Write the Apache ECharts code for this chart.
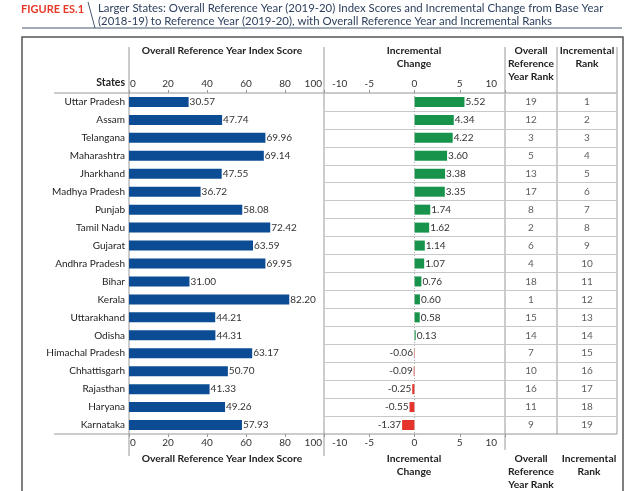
<!DOCTYPE html>
<html><head><meta charset="utf-8">
<script src="https://cdn.jsdelivr.net/npm/echarts@6/dist/echarts.min.js"></script>
<style>html,body{margin:0;padding:0;background:#fff}#c{width:629px;height:491px}</style>
</head><body><div id="c"></div>
<script>
const states = ['Uttar Pradesh','Assam','Telangana','Maharashtra','Jharkhand','Madhya Pradesh','Punjab','Tamil Nadu','Gujarat','Andhra Pradesh','Bihar','Kerala','Uttarakhand','Odisha','Himachal Pradesh','Chhattisgarh','Rajasthan','Haryana','Karnataka'];
const indexScore = [30.57,47.74,69.96,69.14,47.55,36.72,58.08,72.42,63.59,69.95,31.00,82.20,44.21,44.31,63.17,50.70,41.33,49.26,57.93];
const incChange = [5.52,4.34,4.22,3.60,3.38,3.35,1.74,1.62,1.14,1.07,0.76,0.60,0.58,0.13,-0.06,-0.09,-0.25,-0.55,-1.37];
const overallRank = [19,12,3,5,13,17,8,2,6,4,18,1,15,14,7,10,16,11,9];
const incRank = [1,2,3,4,5,6,7,8,9,10,11,12,13,14,15,16,17,18,19];

const FONT = 'Lato, "Open Sans", sans-serif';
const TOP = 93, H = 341;
const chart = echarts.init(document.getElementById('c'), null, {renderer:'canvas'});

function grid(left, width){ return {left, top:TOP, width, height:H, outerBoundsMode:'none', containLabel:false}; }
function valAxis(g, pos, min, max, interval, padMin, padMax){
  return {type:'value', gridIndex:g, position:pos, min, max, interval,
    axisLine:{show:false}, splitLine:{show:false},
    axisTick:{show:true, length:3, lineStyle:{color:'#999'}},
    axisLabel:{fontSize:10, color:'#333', fontFamily:FONT, margin:4, alignMinLabel:'left', alignMaxLabel:'right',
      formatter: v => v===min ? '{a|'+v+'}' : (v===max ? '{b|'+v+'}' : String(v)),
      rich:{a:{fontSize:10, color:'#333', fontFamily:FONT, padding:[0,0,0,padMin]},
            b:{fontSize:10, color:'#333', fontFamily:FONT, padding:[0,padMax,0,0]}}}};
}
function catX(g){ return {type:'category', gridIndex:g, data:['x'], show:false}; }
function catY(g, showLabel, split){
  return {type:'category', gridIndex:g, data:states, inverse:true,
    axisLine:{show:false}, axisTick:{show:false},
    axisLabel:{show:showLabel, fontSize:10, color:'#222', fontFamily:FONT, margin:4},
    splitLine:{show:split, interval:0, lineStyle:{color:'#c8c8c8', width:1}}};
}
function rankSeries(g, arr){
  return {type:'scatter', xAxisIndex:g===2?4:5, yAxisIndex:g, symbolSize:1,
    itemStyle:{color:'rgba(0,0,0,0)'}, silent:true,
    data: arr.map((r,i)=>[0,i]),
    label:{show:true, position:'inside', formatter:p=>String(arr[p.dataIndex]), fontSize:10, color:'#333', fontFamily:FONT}};
}
function line(x1,y1,x2,y2,color,w){ return {type:'line', silent:true, shape:{x1,y1,x2,y2}, style:{stroke:color||'#999', lineWidth:w||1}}; }
function txt(text,x,y,opt){
  opt = opt||{};
  return {type:'text', silent:true, x, y, style:{text, fill:opt.fill||'#222',
    font:(opt.weight||'bold')+' '+(opt.size||10.3)+'px '+FONT,
    align:opt.align||'center', textAlign:opt.align||'center',
    verticalAlign:'top', textVerticalAlign:'top', lineHeight:opt.lh||13}};
}

const option = {
  animation:false,
  grid:[grid(129,195), grid(324,181), grid(505,52), grid(557,60)],
  xAxis:[
    valAxis(0,'bottom',0,100,20,1,2), valAxis(0,'top',0,100,20,1,2),
    valAxis(1,'bottom',-10,10,5,8,8), valAxis(1,'top',-10,10,5,8,8),
    catX(2), catX(3)
  ],
  yAxis:[catY(0,true,false), catY(1,false,true), catY(2,false,true), catY(3,false,true)],
  series:[
    {type:'bar', xAxisIndex:0, yAxisIndex:0, data:indexScore, barWidth:10,
      itemStyle:{color:'#0b4c94'},
      label:{show:true, position:'right', distance:1, fontSize:10, color:'#333', fontFamily:FONT, formatter:p=>p.value.toFixed(2)}},
    {type:'bar', xAxisIndex:2, yAxisIndex:1, barWidth:10,
      data: incChange.map(v=>({value:v, itemStyle:{color: v>=0?'#17934c':'#e5342b'},
        label:{position: v>=0?'right':'left'}})),
      label:{show:true, distance:1, fontSize:10, color:'#333', fontFamily:FONT, formatter:p=>p.value.toFixed(2)},
      markLine:{silent:true, symbol:'none', label:{show:false}, lineStyle:{color:'#aaa', type:[1,2], width:1}, data:[{xAxis:0}]}},
    rankSeries(2, overallRank),
    rankSeries(3, incRank)
  ],
  graphic:[
    {type:'rect', silent:true, shape:{x:22, y:37, width:601, height:480}, style:{fill:'none', stroke:'#555', lineWidth:1.5}},
    line(22,28,622,28,'#44566c',1.2),
    line(88,2,95,28,'#44566c',1),
    txt('FIGURE ES.1',21,3,{fill:'#e63a26', size:11, align:'left'}),
    txt('Larger States: Overall Reference Year (2019-20) Index Scores and Incremental Change from Base Year\n(2018-19) to Reference Year (2019-20), with Overall Reference Year and Incremental Ranks',98,2,{fill:'#2c3f5e', size:11.4, weight:'normal', align:'left', lh:13}),
    line(129,47,129,456), line(324,47,324,456), line(505,47,505,450), line(557,47,557,434),
    line(617,47,617,434),
    line(54,TOP,617,TOP), line(54,TOP+H,617,TOP+H),
    txt('Overall Reference Year Index Score',222,44),
    txt('Incremental\nChange',414,44),
    txt('Overall\nReference\nYear Rank',531,44),
    txt('Incremental\nRank',587,44),
    {type:'text', silent:true, x:125, y:77, style:{text:'States', fill:'#222', font:'bold 10.5px '+FONT, align:'right', textAlign:'right', verticalAlign:'top', textVerticalAlign:'top'}},
    txt('Overall Reference Year Index Score',222,452),
    txt('Incremental\nChange',414,452),
    txt('Overall\nReference\nYear Rank',531,452),
    txt('Incremental\nRank',589,452)
  ]
};
chart.setOption(option);
</script></body></html>
